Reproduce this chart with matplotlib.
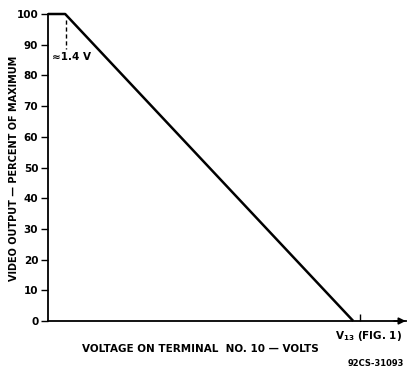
import matplotlib
matplotlib.use("Agg")
import matplotlib.pyplot as plt

# Transfer characteristic: video output vs. voltage on terminal 10
volts = [0.0, 0.55, 9.78]
output_pct = [100, 100, 0]
v13 = 10.0
knee_label = "≈1.4 V"
y_ticks = [0, 10, 20, 30, 40, 50, 60, 70, 80, 90, 100]

plt.rcParams["font.family"] = ["DejaVu Sans"]
plt.rcParams["font.weight"] = "bold"

fig = plt.figure(figsize=(4.08, 3.69), dpi=100)
ax = fig.add_axes([48 / 408, 48 / 369, 358 / 408, 307 / 369])

ax.plot(volts, output_pct, color="black", lw=1.8, clip_on=False, solid_capstyle="butt")
ax.set_xlim(0, 11.47)
ax.set_ylim(0, 100)

for s in ("top", "right"):
    ax.spines[s].set_visible(False)
ax.spines["left"].set_linewidth(1.3)
ax.spines["bottom"].set_linewidth(1.3)

ax.set_yticks(y_ticks)
ax.set_yticklabels([str(t) for t in y_ticks], fontsize=7.5, fontweight="bold")
ax.tick_params(axis="y", direction="out", length=5, width=1, pad=2)

ax.set_xticks([v13])
ax.set_xticklabels([""])
ax.tick_params(axis="x", direction="in", length=5, width=1)

# arrow head on the voltage axis
ax.annotate("", xy=(11.55, 0), xytext=(11.0, 0),
            arrowprops=dict(arrowstyle="-|>", color="black", lw=1.2,
                            mutation_scale=10), annotation_clip=False)

# knee marker
ax.plot([0.58, 0.58], [98, 88.5], color="black", lw=1, ls=(0, (3, 2)))
ax.text(0.13, 86, knee_label, fontsize=7.5, fontweight="bold", va="center", ha="left")

ax.text(v13 - 0.8, -2.5, "$\\mathbf{V_{13}}$ (FIG. 1)", fontsize=7.5,
        fontweight="bold", ha="left", va="top")

fig.text(14 / 408, 1 - 168 / 369, "VIDEO OUTPUT — PERCENT OF MAXIMUM", fontsize=7,
         fontweight="bold", rotation=90, ha="center", va="center")
fig.text(200 / 408, 1 - 349 / 369, "VOLTAGE ON TERMINAL  NO. 10 — VOLTS", fontsize=7.5,
         fontweight="bold", ha="center", va="center")
fig.text(404 / 408, 1 - 364 / 369, "92CS-31093", fontsize=6, fontweight="bold",
         ha="right", va="center")

fig.savefig("out.png", dpi=100)
